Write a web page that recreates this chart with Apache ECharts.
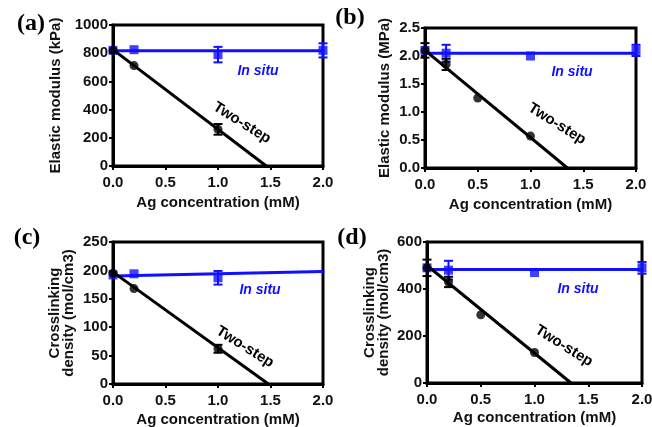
<!DOCTYPE html>
<html>
<head>
<meta charset="utf-8">
<script src="https://cdn.jsdelivr.net/npm/echarts@6/dist/echarts.min.js"></script>
<style>
html, body { margin: 0; padding: 0; background: #fff; }
#main { width: 652px; height: 427px; }
</style>
</head>
<body>
<div id="main"></div>
<script>
// x positions (Ag concentration, mM)
var xInsitu = [0, 0.2, 1.0, 2.0];
var xTwoA = [0, 0.2, 1.0];
var xTwoB = [0, 0.2, 0.5, 1.0];

// (a) elastic modulus, kPa
var aInsitu = [820, 825, 790, 820];
var aInsituErr = [0, 0, 55, 50];
var aTwo = [820, 712, 260];
var aTwoErr = [0, 0, 38];
var aInsituFit = [[0, 818], [2.0, 818]];
var aTwoFit = [[0, 825], [1.46, 0]];

// (b) elastic modulus, MPa
var bInsitu = [2.1, 2.05, 2.0, 2.1];
var bInsituErr = [0, 0.15, 0, 0.1];
var bTwo = [2.1, 1.85, 1.25, 0.57];
var bTwoErr = [0.13, 0.1, 0, 0];
var bInsituFit = [[0, 2.05], [2.0, 2.05]];
var bTwoFit = [[0, 2.1], [1.35, 0]];

// (c) crosslinking density
var cInsituX = [0, 0.2, 1.0];
var cInsitu = [192, 194, 187];
var cInsituErr = [0, 0, 12];
var cTwo = [195, 168, 62];
var cTwoErr = [0, 0, 7];
var cInsituFit = [[0, 190], [2.0, 198]];
var cTwoFit = [[0, 197], [1.48, 0]];

// (d) crosslinking density
var dInsitu = [490, 480, 470, 490];
var dInsituErr = [0, 40, 0, 25];
var dTwo = [490, 430, 290, 130];
var dTwoErr = [35, 22, 0, 0];
var dInsituFit = [[0, 483], [2.0, 483]];
var dTwoFit = [[0, 500], [1.34, 0]];

var BLUE = '#1010ff';
var FONT = 'Arial, "Liberation Sans", sans-serif';

function zip(xs, ys, es) {
    return xs.map(function (x, i) { return es ? [x, ys[i], es[i]] : [x, ys[i]]; });
}

function errBars(idx, data, color) {
    return {
        type: 'custom', xAxisIndex: idx, yAxisIndex: idx, clip: false, z: 3,
        renderItem: function (params, api) {
            var x = api.value(0), y = api.value(1), e = api.value(2);
            if (!e) return;
            var hi = api.coord([x, y + e]), lo = api.coord([x, y - e]);
            var w = 4.5, st = { stroke: color, lineWidth: 2 };
            return { type: 'group', children: [
                { type: 'line', shape: { x1: hi[0], y1: hi[1], x2: lo[0], y2: lo[1] }, style: st },
                { type: 'line', shape: { x1: hi[0] - w, y1: hi[1], x2: hi[0] + w, y2: hi[1] }, style: st },
                { type: 'line', shape: { x1: lo[0] - w, y1: lo[1], x2: lo[0] + w, y2: lo[1] }, style: st }
            ]};
        },
        encode: { x: 0, y: 1 },
        data: data
    };
}

function panelSeries(idx, insitu, insituErr, insituFit, two, twoErr, twoFit) {
    return [
        { type: 'line', xAxisIndex: idx, yAxisIndex: idx, data: insituFit, symbol: 'none',
          lineStyle: { color: BLUE, width: 3 }, z: 2 },
        errBars(idx, insituErr, BLUE),
        { type: 'scatter', xAxisIndex: idx, yAxisIndex: idx, data: insitu, symbol: 'rect',
          symbolSize: 9, itemStyle: { color: BLUE }, clip: false, z: 4 },
        { type: 'line', xAxisIndex: idx, yAxisIndex: idx, data: twoFit, symbol: 'none',
          lineStyle: { color: '#000', width: 3 }, z: 5 },
        errBars(idx, twoErr, '#000'),
        { type: 'scatter', xAxisIndex: idx, yAxisIndex: idx, data: two, symbol: 'circle',
          symbolSize: 9, itemStyle: { color: '#000' }, clip: false, z: 6 }
    ];
}

var grids = [
    { left: 113, top: 25, width: 210, height: 141 },
    { left: 425, top: 28, width: 211, height: 140 },
    { left: 113, top: 242, width: 210, height: 142 },
    { left: 427, top: 242, width: 215, height: 141 }
];
grids.forEach(function (g) {
    g.show = true; g.borderColor = '#000'; g.borderWidth = 3;
    g.containLabel = false; g.outerBoundsMode = 'none';
});

var xNameGaps = [29, 29, 28, 27];
var xAxes = grids.map(function (g, i) {
    return {
        gridIndex: i, type: 'value', min: 0, max: 2, interval: 0.5,
        name: 'Ag concentration (mM)', nameLocation: 'middle', nameGap: xNameGaps[i],
        nameTextStyle: { fontFamily: FONT, fontSize: 15, fontWeight: 'bold', color: '#111' },
        axisLine: { lineStyle: { color: '#000', width: 3 } },
        axisTick: { inside: false, length: 4, lineStyle: { color: '#000', width: 2 } },
        axisLabel: { fontFamily: FONT, fontSize: 15, fontWeight: 'bold', color: '#111', margin: 9,
                     formatter: function (v) { return v.toFixed(1); } },
        splitLine: { show: false }
    };
});

var yMax = [1000, 2.5, 250, 600];
var yInt = [200, 0.5, 50, 200];
var yNames = ['Elastic modulus (kPa)', 'Elastic modulus (MPa)',
              'Crosslinking\ndensity (mol/cm3)', 'Crosslinking\ndensity (mol/cm3)'];
var yNameGaps = [50, 33, 37, 36];
var yAxes = grids.map(function (g, i) {
    return {
        gridIndex: i, type: 'value', min: 0, max: yMax[i], interval: yInt[i],
        name: yNames[i], nameLocation: 'middle', nameGap: yNameGaps[i],
        nameTextStyle: { fontFamily: FONT, fontSize: 15, fontWeight: 'bold', color: '#111', lineHeight: 14 },
        axisLine: { lineStyle: { color: '#000', width: 3 } },
        axisTick: { inside: false, length: 4, lineStyle: { color: '#000', width: 2 } },
        axisLabel: { fontFamily: FONT, fontSize: 15, fontWeight: 'bold', color: '#111', margin: 5,
                     formatter: function (v) { return i === 1 ? v.toFixed(1) : String(v); } },
        splitLine: { show: false }
    };
});

var series = []
    .concat(panelSeries(0, zip(xInsitu, aInsitu), zip(xInsitu, aInsitu, aInsituErr), aInsituFit,
                        zip(xTwoA, aTwo), zip(xTwoA, aTwo, aTwoErr), aTwoFit))
    .concat(panelSeries(1, zip(xInsitu, bInsitu), zip(xInsitu, bInsitu, bInsituErr), bInsituFit,
                        zip(xTwoB, bTwo), zip(xTwoB, bTwo, bTwoErr), bTwoFit))
    .concat(panelSeries(2, zip(cInsituX, cInsitu), zip(cInsituX, cInsitu, cInsituErr), cInsituFit,
                        zip(xTwoA, cTwo), zip(xTwoA, cTwo, cTwoErr), cTwoFit))
    .concat(panelSeries(3, zip(xInsitu, dInsitu), zip(xInsitu, dInsitu, dInsituErr), dInsituFit,
                        zip(xTwoB, dTwo), zip(xTwoB, dTwo, dTwoErr), dTwoFit));

// annotation text
var panelLabels = [['(a)', 31, 24], ['(b)', 350, 18], ['(c)', 27, 238], ['(d)', 352, 238]];
var insituPos = [[258, 71], [572, 72], [260, 290], [578, 289]];
var twoPos = [[242, 123], [557, 124], [245, 347], [564, 346]];
var graphic = [];
panelLabels.forEach(function (p) {
    graphic.push({ type: 'text', x: p[1], y: p[2],
        style: { text: p[0], font: 'bold 24px "Liberation Serif", "Times New Roman", serif',
                 fill: '#000', align: 'center', verticalAlign: 'middle' } });
});
insituPos.forEach(function (p) {
    graphic.push({ type: 'text', x: p[0], y: p[1], z: 10,
        style: { text: 'In situ', font: 'italic bold 14px ' + FONT, fill: BLUE,
                 align: 'center', verticalAlign: 'middle' } });
});
twoPos.forEach(function (p) {
    graphic.push({ type: 'text', x: p[0], y: p[1], rotation: -32 * Math.PI / 180, z: 10,
        style: { text: 'Two-step', font: 'bold 15px ' + FONT, fill: '#000',
                 align: 'center', verticalAlign: 'middle' } });
});

var chart = echarts.init(document.getElementById('main'));
chart.setOption({
    animation: false,
    grid: grids,
    xAxis: xAxes,
    yAxis: yAxes,
    series: series,
    graphic: graphic
});
</script>
</body>
</html>
